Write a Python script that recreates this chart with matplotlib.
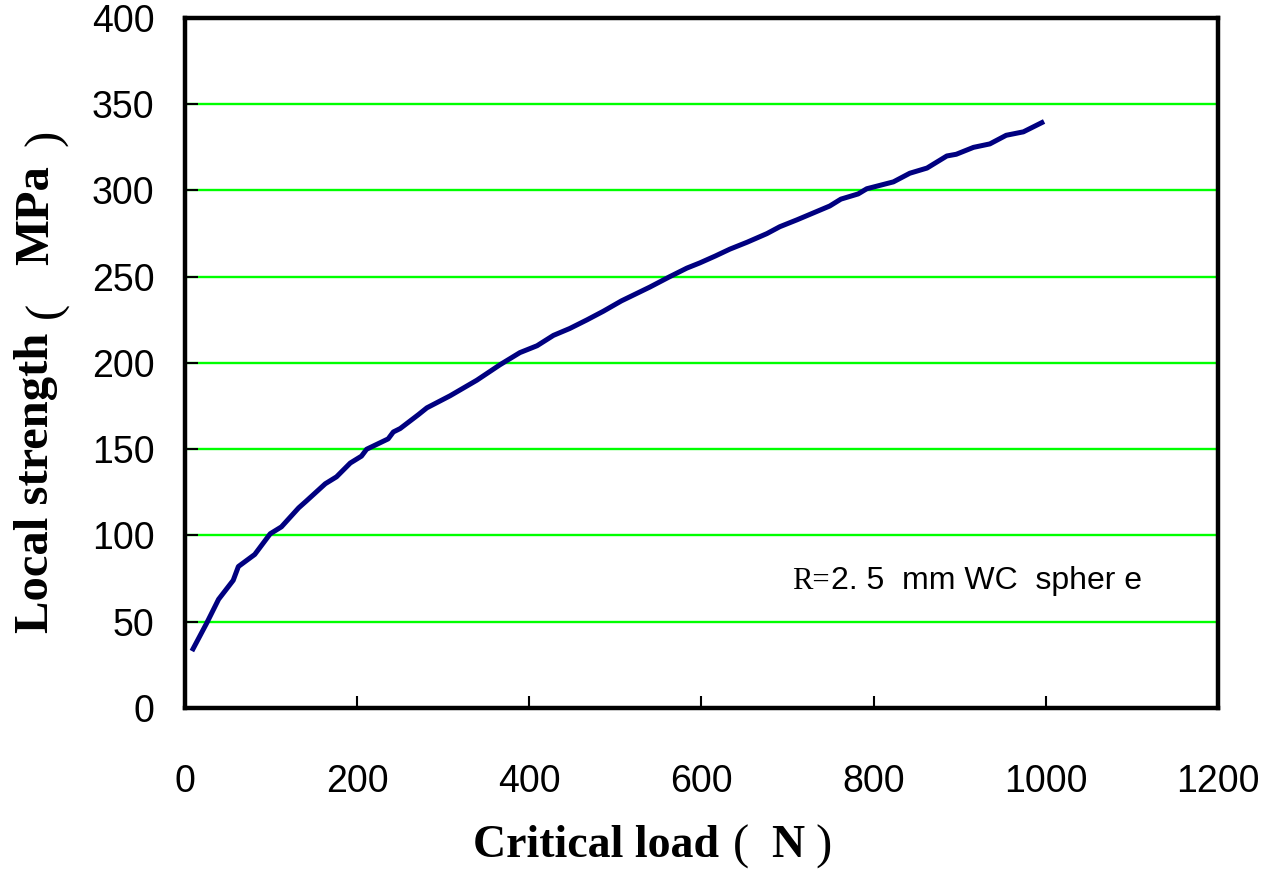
import matplotlib
matplotlib.use("Agg")
import matplotlib.pyplot as plt

# Critical load (N) vs. local strength (MPa)
load = [8, 25, 39, 56, 62, 81, 99, 112, 132, 141, 163, 176, 192, 205, 211,
        236, 242, 250, 271, 281, 308, 339, 366, 389, 409, 428, 447, 467, 486,
        507, 540, 563, 583, 598, 616, 633, 653, 676, 691, 711, 730, 749, 762,
        782, 792, 823, 842, 862, 885, 896, 916, 935, 954, 974, 998]
strength = [33, 49, 63, 74, 82, 89, 101, 105, 116, 120, 130, 134, 142, 146, 150,
            156, 160, 162, 170, 174, 181, 190, 199, 206, 210, 216, 220, 225, 230,
            236, 244, 250, 255, 258, 262, 266, 270, 275, 279, 283, 287, 291, 295,
            298, 301, 305, 310, 313, 320, 321, 325, 327, 332, 334, 340]

xticks = [0, 200, 400, 600, 800, 1000, 1200]
yticks = [0, 50, 100, 150, 200, 250, 300, 350, 400]

W, H = 1262, 869
fig = plt.figure(figsize=(W / 100, H / 100), dpi=100)
ax = fig.add_axes([0.1466, 0.1853, 0.8185, 0.794])

ax.plot(load, strength, color="#000080", lw=3.6, solid_capstyle="butt", zorder=3)

ax.set_xlim(0, 1200)
ax.set_ylim(0, 400)
ax.set_xticks(xticks)
ax.set_yticks(yticks)

for yv in yticks[1:-1]:
    ax.axhline(yv, color="#00ff00", lw=1.7, zorder=1)

for s in ax.spines.values():
    s.set_linewidth(3.2)
    s.set_color("black")

ax.tick_params(axis="both", direction="in", length=9, width=1.5,
               labelsize=27, top=False, right=False)
ax.tick_params(axis="x", pad=40)
ax.tick_params(axis="y", pad=22)
for lab in ax.get_xticklabels() + ax.get_yticklabels():
    lab.set_family(["Liberation Sans", "DejaVu Sans"])


def px(x, y):
    """Pixel position (from top-left) to figure fraction."""
    return x / W, 1 - y / H


serif = ["Liberation Serif", "DejaVu Serif"]
bold_kw = dict(family=serif, fontweight="bold", fontsize=33)
paren_kw = dict(family=serif, fontweight="normal", fontsize=35)

# x-axis title: Critical load ( N )
fig.text(*px(473, 857), "Critical load", ha="left", va="baseline", **bold_kw)
fig.text(*px(733, 859), "(", ha="left", va="baseline", **paren_kw)
fig.text(*px(771, 857), "N", ha="left", va="baseline", **bold_kw)
fig.text(*px(815, 859), ")", ha="left", va="baseline", **paren_kw)

# y-axis title: Local strength ( MPa ), reading upward
rot = dict(rotation=90, rotation_mode="anchor", ha="left", va="baseline")
ybold = dict(bold_kw, fontsize=35)
fig.text(*px(48, 633), "Local strength", **rot, **ybold)
fig.text(*px(58, 318), "(", **rot, **paren_kw)
fig.text(*px(48, 265), "MPa", **rot, **ybold)
fig.text(*px(58, 146), ")", **rot, **paren_kw)

# sphere note
ax.text(705, 69, "R=", family=serif, fontsize=22, va="baseline", ha="left")
ax.text(751, 69, "2. 5  mm WC  spher e", family=["Liberation Sans"],
        fontsize=23, va="baseline", ha="left")

fig.savefig("out.png", dpi=100, facecolor="white")
